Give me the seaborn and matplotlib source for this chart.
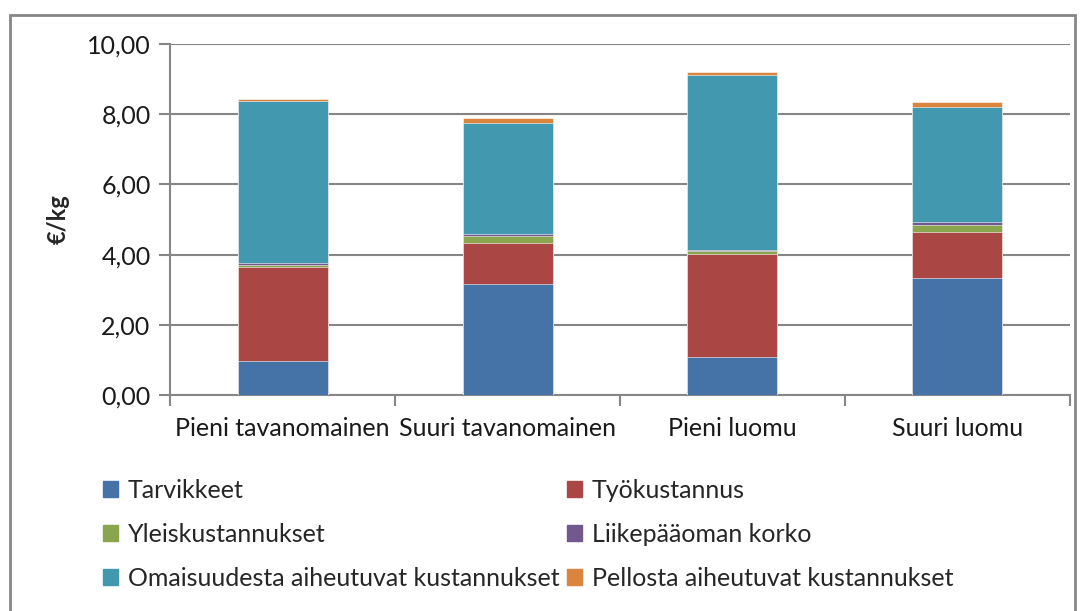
import matplotlib
matplotlib.use("Agg")
import matplotlib.pyplot as plt
import matplotlib.patches as mpatches
import numpy as np
import pandas as pd
import seaborn as sns

sns.set_style("white")
plt.rcParams['font.family'] = ['Lato', 'DejaVu Sans']

# data (€/kg)
groups = ["Pieni tavanomainen", "Suuri tavanomainen", "Pieni luomu", "Suuri luomu"]
components = ["Tarvikkeet", "Työkustannus", "Yleiskustannukset",
              "Liikepääoman korko", "Omaisuudesta aiheutuvat kustannukset",
              "Pellosta aiheutuvat kustannukset"]
tarvikkeet = [0.97, 3.16, 1.08, 3.34]
tyokustannus = [2.68, 1.17, 2.94, 1.31]
yleiskustannukset = [0.05, 0.20, 0.08, 0.19]
liikepaaoman_korko = [0.05, 0.06, 0.03, 0.08]
omaisuudesta = [4.63, 3.16, 4.99, 3.28]
pellosta = [0.05, 0.14, 0.07, 0.15]
colors = ["#4572A7", "#AA4643", "#89A54E", "#71588F", "#4198AF", "#DB843D"]

df = pd.DataFrame({"group": groups,
                   components[0]: tarvikkeet,
                   components[1]: tyokustannus,
                   components[2]: yleiskustannukset,
                   components[3]: liikepaaoman_korko,
                   components[4]: omaisuudesta,
                   components[5]: pellosta})
cum = df[components].cumsum(axis=1)
cum["group"] = groups

fig = plt.figure(figsize=(10.83, 6.11), dpi=100)
ax = fig.add_axes([170/1083, 1 - 395/611, 900/1083, (395-44)/611])

# draw tallest stack first so lower layers sit on top
for comp, col in reversed(list(zip(components, colors))):
    sns.barplot(data=cum, x="group", y=comp, color=col, width=0.4,
                edgecolor="white", linewidth=0.4, saturation=1, ax=ax, zorder=3)

grid_c = "#868686"
ax.set_ylim(0, 10)
ax.set_xlim(-0.5, 3.5)
ax.set_yticks(np.arange(0, 10.01, 2))
ax.set_yticklabels([f"{v:.2f}".replace(".", ",") for v in np.arange(0, 10.01, 2)])
ax.yaxis.grid(True, color=grid_c, linewidth=1.5, zorder=0)
ax.set_axisbelow(True)
for s in ["top", "right"]:
    ax.spines[s].set_visible(False)
for s in ["left", "bottom"]:
    ax.spines[s].set_color(grid_c)
    ax.spines[s].set_linewidth(1.5)
ax.tick_params(axis="y", left=True, length=8, width=1.5, color=grid_c,
               labelsize=18, pad=6, labelcolor="#1a1a1a")
ax.set_xticks([0, 1, 2, 3])
ax.set_xticklabels(groups)
ax.set_xticks([-0.5, 0.5, 1.5, 2.5, 3.5], minor=True)
ax.tick_params(axis="x", which="major", bottom=False, labelsize=18, pad=12,
               labelcolor="#1a1a1a")
ax.tick_params(axis="x", which="minor", bottom=True, length=8, width=1.5, color=grid_c)
ax.set_xlabel("")
ax.set_ylabel("€/kg", fontsize=17, fontweight="bold", labelpad=12)

# legend fills row by row in the original
handles = [mpatches.Patch(color=c, label=l) for l, c in zip(components, colors)]
order = [0, 2, 4, 1, 3, 5]
fig.legend(handles=[handles[i] for i in order], ncol=2, loc="upper left",
           bbox_to_anchor=(80/1083, 1 - 456/611),
           frameon=False, fontsize=18, handlelength=0.6, handleheight=0.6,
           handletextpad=0.4, columnspacing=0.3, labelspacing=0.85)

fig.patches.append(mpatches.Rectangle((10/1083, -0.1), 1065/1083, 1.1 - 15/611,
                                      transform=fig.transFigure, fill=False,
                                      edgecolor=grid_c, linewidth=2))

fig.savefig("out.png", dpi=100)
